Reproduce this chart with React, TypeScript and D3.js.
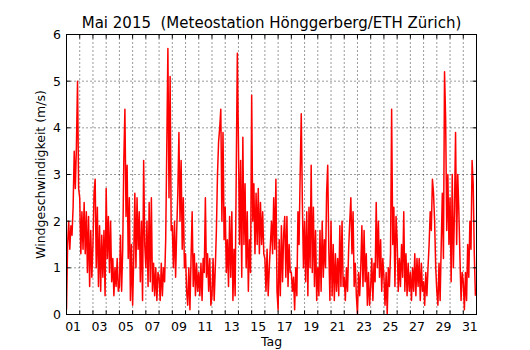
import React from "react";
import * as d3 from "d3";

// Wind speed (m/s), 12 readings per day (every 2 h)
const windByDay: number[][] = [
  [0.1, 1.5, 2.0, 1.4, 1.9, 1.7, 2.3, 3.5, 2.7, 3.6, 5.0, 2.7],
  [2.5, 1.3, 2.2, 1.4, 2.4, 1.3, 2.2, 0.9, 2.1, 0.6, 1.8, 0.8],
  [1.5, 2.6, 2.9, 1.0, 2.3, 0.6, 1.9, 0.5, 1.7, 0.8, 1.8, 0.4],
  [2.7, 1.2, 2.1, 0.9, 2.0, 0.7, 1.2, 0.4, 1.0, 0.6, 1.2, 0.5],
  [0.6, 1.7, 0.5, 1.4, 3.3, 4.4, 2.1, 3.2, 1.2, 2.5, 0.3, 1.5],
  [0.2, 1.2, 2.6, 1.0, 2.5, 1.4, 2.2, 0.7, 2.0, 0.3, 3.3, 1.5],
  [1.0, 2.0, 0.6, 2.4, 0.7, 2.5, 0.5, 1.1, 0.4, 1.0, 0.3, 0.9],
  [0.8, 0.3, 1.1, 0.4, 1.0, 0.7, 1.6, 3.6, 5.7, 2.5, 5.1, 1.8],
  [1.9, 1.0, 2.0, 0.8, 1.8, 2.6, 3.9, 2.0, 3.3, 1.4, 2.5, 1.0],
  [1.3, 0.5, 0.2, 1.0, 0.1, 1.2, 2.2, 0.6, 1.3, 0.4, 1.1, 0.5],
  [0.9, 0.4, 1.1, 0.3, 1.2, 0.9, 2.5, 0.8, 1.3, 0.5, 1.2, 0.2],
  [0.4, 1.2, 0.3, 1.0, 1.8, 3.0, 3.7, 4.0, 4.4, 2.0, 3.9, 1.6],
  [2.3, 0.9, 1.6, 0.6, 2.1, 0.8, 2.2, 0.3, 1.4, 0.4, 3.0, 5.6],
  [3.7, 1.5, 3.3, 0.8, 3.8, 1.5, 2.8, 1.0, 2.2, 0.5, 1.6, 0.9],
  [4.7, 2.0, 2.8, 1.3, 2.6, 1.5, 2.7, 1.3, 2.4, 1.5, 2.2, 1.3],
  [1.2, 0.5, 1.4, 0.4, 1.0, 1.5, 2.0, 1.3, 2.5, 1.4, 2.9, 0.5],
  [0.1, 1.6, 0.4, 1.9, 0.7, 1.7, 2.1, 0.8, 2.1, 0.6, 1.5, 0.9],
  [0.9, 0.5, 0.8, 0.1, 1.0, 0.4, 2.2, 1.5, 3.0, 4.3, 2.4, 1.0],
  [2.0, 0.7, 2.2, 0.4, 2.3, 1.0, 3.2, 0.9, 2.3, 0.6, 1.8, 0.3],
  [1.0, 0.4, 1.8, 0.5, 2.0, 0.8, 1.6, 1.0, 2.6, 3.2, 1.4, 0.3],
  [2.0, 0.4, 1.5, 0.3, 1.3, 0.5, 1.2, 0.4, 1.9, 0.6, 2.0, 0.6],
  [0.8, 0.3, 1.0, 0.5, 1.4, 2.0, 2.5, 1.3, 2.2, 0.6, 1.1, 0.4],
  [0.0, 0.9, 0.4, 1.0, 1.9, 0.6, 1.8, 0.7, 1.3, 0.2, 0.9, 0.2],
  [0.6, 1.2, 0.3, 1.1, 0.7, 2.4, 1.0, 2.0, 0.8, 1.6, 0.5, 1.2],
  [0.8, 0.2, 0.9, 0.0, 1.0, 0.6, 1.3, 4.4, 1.5, 2.3, 0.6, 2.1],
  [1.6, 0.5, 1.2, 0.6, 1.5, 0.8, 2.2, 0.5, 1.3, 0.4, 1.1, 0.5],
  [0.9, 0.3, 1.0, 0.5, 1.3, 0.4, 1.2, 0.6, 1.2, 0.3, 1.1, 0.5],
  [0.7, 0.2, 0.9, 0.4, 1.0, 1.5, 2.2, 1.8, 2.9, 2.6, 2.0, 1.0],
  [0.5, 0.2, 1.1, 0.3, 1.5, 2.6, 1.2, 5.2, 4.2, 1.8, 3.0, 1.5],
  [2.5, 0.7, 3.0, 1.0, 2.2, 3.9, 1.5, 3.0, 2.2, 1.2, 0.3, 0.9],
  [0.7, 0.1, 0.9, 0.3, 1.5, 0.8, 2.0, 1.4, 3.3, 2.8, 1.3, 0.4],
];

const dayLabels = ["01","03","05","07","09","11","13","15","17","19","21","23","25","27","29","31"];
const yTicks = [0, 1, 2, 3, 4, 5, 6];

const W = 530, H = 350;
const left = 66.5, right = 476.5, top = 34.5, bottom = 314.5;
const font = "'DejaVu Sans', sans-serif";

export default function App() {
  const x = d3.scaleLinear().domain([0, 31]).range([left, right]);
  const y = d3.scaleLinear().domain([0, 6]).range([bottom, top]);

  const points: [number, number][] = [];
  windByDay.forEach((vals, d) => {
    const n = vals.length;
    vals.forEach((v, s) => points.push([d + s / n, v]));
  });
  const line = d3.line<[number, number]>().x((p) => x(p[0])).y((p) => y(p[1]));

  const dayBounds = d3.range(1, 31);

  return (
    <div style={{ position: "fixed", left: 0, top: 0 }}>
      <svg width={W} height={H} style={{ display: "block", background: "#fff" }}>
        <rect x={0} y={0} width={W} height={H} fill="#fff" />
        {/* grid */}
        {dayBounds.map((d) => (
          <line key={"vg" + d} x1={x(d)} x2={x(d)} y1={top} y2={bottom}
            stroke="#000" strokeWidth={0.8} strokeDasharray="1,3" />
        ))}
        {yTicks.slice(1, -1).map((t) => (
          <line key={"hg" + t} x1={left} x2={right} y1={y(t)} y2={y(t)}
            stroke="#000" strokeWidth={0.8} strokeDasharray="1,3" />
        ))}
        {/* data */}
        <clipPath id="clip">
          <rect x={left} y={top} width={right - left} height={bottom - top} />
        </clipPath>
        <path d={line(points) || ""} fill="none" stroke="#ff0000" strokeWidth={1.5}
          strokeLinejoin="round" clipPath="url(#clip)" />
        {/* ticks */}
        {dayBounds.map((d) => (
          <g key={"xt" + d}>
            <line x1={x(d)} x2={x(d)} y1={bottom} y2={bottom - 4} stroke="#000" strokeWidth={1} />
            <line x1={x(d)} x2={x(d)} y1={top} y2={top + 4} stroke="#000" strokeWidth={1} />
          </g>
        ))}
        {yTicks.map((t) => (
          <g key={"yt" + t}>
            <line x1={left} x2={left + 4} y1={y(t)} y2={y(t)} stroke="#000" strokeWidth={1} />
            <line x1={right} x2={right - 4} y1={y(t)} y2={y(t)} stroke="#000" strokeWidth={1} />
            <text x={61} y={y(t)} dy="0.36em" textAnchor="end" fontFamily={font} fontSize={12.5}>{t}</text>
          </g>
        ))}
        {dayLabels.map((lab) => {
          const d = +lab;
          return (
            <text key={"xl" + lab} x={x(d - 0.5)} y={331} textAnchor="middle" fontFamily={font} fontSize={12.5}>{lab}</text>
          );
        })}
        {/* frame */}
        <rect x={left} y={top} width={right - left} height={bottom - top} fill="none" stroke="#000" strokeWidth={1} />
        {/* labels */}
        <text x={(left + right) / 2} y={28} textAnchor="middle" fontFamily={font} fontSize={15}>
          Mai 2015{"\u00a0\u00a0"}(Meteostation Hönggerberg/ETH Zürich)
        </text>
        <text x={(left + right) / 2} y={346} textAnchor="middle" fontFamily={font} fontSize={12.5}>Tag</text>
        <text transform={`translate(44.5,${(top + bottom) / 2}) rotate(-90)`} textAnchor="middle"
          fontFamily={font} fontSize={12.5}>Windgeschwindigkeit (m/s)</text>
      </svg>
    </div>
  );
}
